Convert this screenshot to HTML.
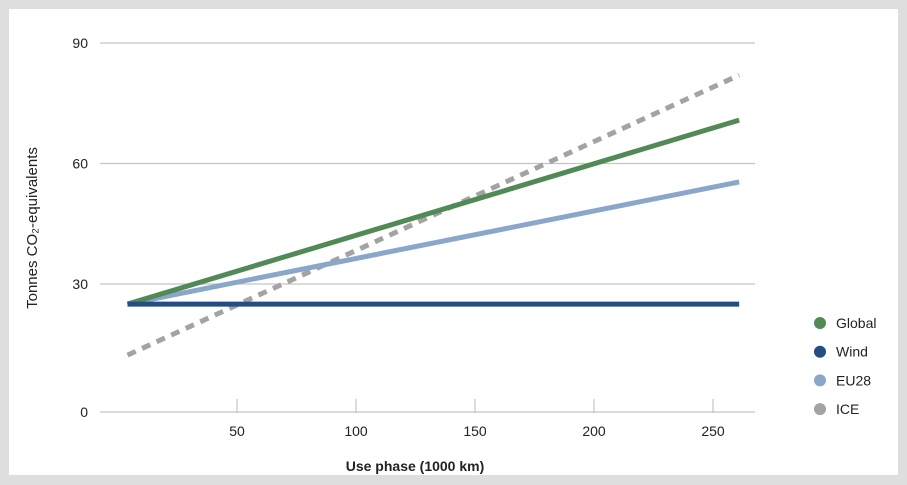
<!DOCTYPE html>
<html><head><meta charset="utf-8"><style>
body{margin:0;background:#dedede;font-family:"Liberation Sans",sans-serif}
#card{position:absolute;left:9px;top:9px;width:889px;height:466px;background:#fff}
</style></head><body>
<div id="card"></div>
<svg id="chart" width="907" height="485" style="position:absolute;left:0;top:0">
<g id="grid"></g><g id="series"></g><g id="legend"></g>
<text x="37" y="228" transform="rotate(-90 37 228)" text-anchor="middle" font-size="15" fill="#222">Tonnes CO₂-equivalents</text>
<text x="415" y="471" text-anchor="middle" font-size="14" font-weight="bold" fill="#222">Use phase (1000 km)</text>
</svg>
<script>
const yTicks=[0,30,60,90];
const xTicks=[50,100,150,200,250];
const seriesNames=["Global","Wind","EU28","ICE"];
const xRange=[4,261];
const globalVals=[25,70.8];
const windVals=[25,25];
const eu28Vals=[25,55.4];
const iceVals=[12.3,82];
const colors=["#528a57","#234d84","#8aa6c8","#a3a3a3"];
const NS="http://www.w3.org/2000/svg";
const x=v=>118+v*2.38;
const y=v=>404.5-v*4.017;
function mk(p,t,a){const e=document.createElementNS(NS,t);for(const k in a)e.setAttribute(k,a[k]);p.appendChild(e);return e;}
const grid=document.getElementById('grid'),ser=document.getElementById('series'),leg=document.getElementById('legend');
yTicks.forEach(t=>{const yy=t===0?412:y(t);
 const l=mk(grid,'line',{x1:100,x2:755,y1:yy,y2:yy,stroke:'#c4c4c4','stroke-width':1.2});
 
 
 const tx=mk(grid,'text',{x:88,y:yy+5,'text-anchor':'end','font-size':14,fill:'#222'});tx.textContent=t;
 
 
});
xTicks.forEach(t=>{
 const l=mk(grid,'line',{x1:x(t),x2:x(t),y1:399,y2:413,stroke:'#c4c4c4','stroke-width':1.2});
 
 
 const tx=mk(grid,'text',{x:x(t),y:436,'text-anchor':'middle','font-size':14,fill:'#222'});tx.textContent=t;
 
 
});
const all=[globalVals,windVals,eu28Vals,iceVals];
[3,2,0,1].forEach(i=>{const v=all[i];
 const a={x1:x(xRange[0]),x2:x(xRange[1]),y1:y(v[0]),y2:y(v[1]),stroke:colors[i],'stroke-width':5};
 if(i===3){a['stroke-dasharray']='9 7';}
 const l=mk(ser,'line',a);
 
 
});
seriesNames.forEach((n,i)=>{const yy=323+i*28.7;
 const g=mk(leg,'g',{});
 
 
 mk(g,'circle',{cx:820,cy:yy,r:6,fill:colors[i]});
 const t=mk(g,'text',{x:836,y:yy+5,'font-size':14,fill:'#222'});t.textContent=n;
});
</script>
</body></html>
